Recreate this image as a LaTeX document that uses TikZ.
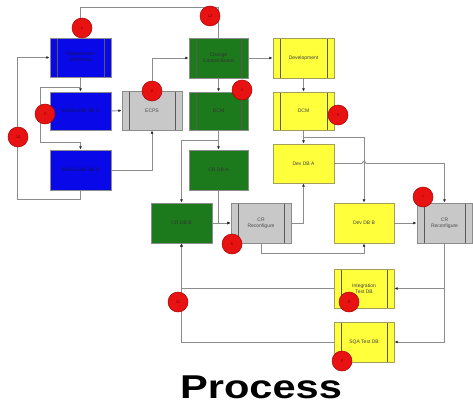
\documentclass[tikz,border=0pt]{standalone}
\usepackage{fontspec}
\setmainfont{Liberation Sans}
\usetikzlibrary{arrows.meta}

\definecolor{bluebox}{RGB}{8,8,232}
\definecolor{greenbox}{RGB}{28,122,28}
\definecolor{yellowbox}{RGB}{255,255,60}
\definecolor{greybox}{RGB}{200,200,200}
\definecolor{badgered}{RGB}{232,18,18}
\definecolor{linegrey}{RGB}{140,140,140}

\tikzset{
  box/.style={draw=linegrey, line width=0.8pt, minimum width=60pt, minimum height=39pt,
    inner sep=1pt, align=center, text=black!75, font=\fontsize{5}{6}\selectfont},
  bars/.style={path picture={
    \draw[line width=0.8pt, black!65]
      ([xshift=7pt]path picture bounding box.north west) -- ([xshift=7pt]path picture bounding box.south west)
      ([xshift=-7pt]path picture bounding box.north east) -- ([xshift=-7pt]path picture bounding box.south east);}},
  bluenode/.style={box, fill=bluebox, text={rgb,255:red,20;green,20;blue,90}},
  greennode/.style={box, fill=greenbox, text=black!80},
  yellownode/.style={box, fill=yellowbox, draw={rgb,255:red,160;green,160;blue,90}},
  greynode/.style={box, fill=greybox, text=black!70},
  flow/.style={draw=linegrey, line width=0.9pt, -{Latex[length=3.2pt, width=2.8pt, color=black!85]}},
  badge/.style={circle, fill=badgered, draw={rgb,255:red,170;green,0;blue,0}, line width=0.5pt,
    minimum size=20pt, inner sep=0pt, text={rgb,255:red,120;green,0;blue,0}, font=\fontsize{4}{4}\selectfont},
}

\begin{document}
\begin{tikzpicture}[x=1pt,y=-1pt]
\fill[white] (0,0) rectangle (473,409);
\useasboundingbox (0,0) rectangle (473,409);

% Requirement side
\node[bluenode, bars, minimum width=61pt] (req) at (80.5,57.5) {Requirement\\Workshop};
\node[bluenode, minimum width=61pt, minimum height=38pt] (blA) at (80.5,111) {BASELINE DB A};
\node[bluenode, minimum width=61pt, minimum height=40pt] (blB) at (80.5,170) {BASELINE DB B};
\node[greynode, bars] (ecps) at (152,110.5) {ECPS};

% Change control
\node[greennode, bars, minimum width=59pt, minimum height=40pt] (ccb) at (218.5,58) {Change\\Control Board};
\node[greennode, bars, minimum width=59pt, minimum height=38pt] (gdcm) at (218.5,111) {DCM};
\node[greennode, minimum width=59pt, minimum height=40pt] (crdba) at (218.5,170) {CR DB A};
\node[greennode, minimum width=61pt, minimum height=40pt] (crdbb) at (181.5,223) {CR DB B};
\node[greynode, bars, minimum height=40pt] (crr1) at (261,223) {CR\\Reconfigure};

% Development
\node[yellownode, bars, minimum width=61pt, minimum height=40pt] (dev) at (303.5,58) {Development};
\node[yellownode, bars, minimum width=61pt, minimum height=38pt] (ydcm) at (303.5,111) {DCM};
\node[yellownode, minimum width=61pt] (devdba) at (303.5,163.5) {Dev DB A};
\node[yellownode, minimum height=40pt] (devdbb) at (364,223) {Dev DB B};
\node[greynode, bars, minimum width=55pt, minimum height=40pt] (crr2) at (444.5,223) {CR\\Reconfigure};
\node[yellownode, bars] (integ) at (364,288.5) {Integration\\Test DB};
\node[yellownode, bars, minimum height=40pt] (sqa) at (364,342) {SQA Test DB};

% Connectors
\draw[flow] (ccb.north) -- ++(0,-30) -| (req.north);
\draw[flow] (blB.south) -- ++(0,9) -| ([xshift=-32pt]req.west) -- (req.west);
\draw[flow] (req.south) -- (blA.north);
\draw[flow] ([yshift=4pt]blA.north) -- ++(-40.5,0) |- ([yshift=7pt]blB.north) -- (blB.north);
\draw[flow] (blA.east) -- (ecps.west);
\draw[flow] (blB.east) -| (ecps.south);
\draw[flow] (ecps.north) |- (ccb.west);
\draw[flow] (ccb.south) -- (gdcm.north);
\draw[flow] (ccb.east) -- (dev.west);
\draw[flow] (dev.south) -- (ydcm.north);
\draw[flow] (gdcm.south) -- (crdba.north);
\draw[flow] ([yshift=-10pt]gdcm.south) -| (crdbb.north);
\draw[flow] (crdba.south) |- (crr1.west);
\draw[flow] (crdbb.east) -- (crr1.west);
\draw[flow] (crr1.east) -| (devdba.south);
\draw[flow] (crr1.south) -- ++(0,10) -| (devdbb.south);
\draw[flow] (ydcm.south) -- (devdba.north);
\draw[flow] ([yshift=-7pt]ydcm.south) -| (devdbb.north);
\draw[flow] (devdba.east) -- ([xshift=-2pt]devdbb.north |- devdba.east)
  arc[start angle=180, end angle=0, radius=2pt] -| (crr2.north);
\draw[flow] (devdbb.east) -- (crr2.west);
\draw[flow] (crr2.south) |- (sqa.east);
\draw[flow] (crr2.south |- integ.east) -- (integ.east);
\draw[flow] (integ.west) -| (crdbb.south);
\draw[flow] (sqa.west) -| (crdbb.south);

% Step numbers
\node[badge] (n1) at (82,28) {1};
\node[badge] (n2) at (152,91) {2};
\node[badge] (n3) at (45,114) {3};
\node[badge] (n4) at (242,90) {4};
\node[badge] (n5) at (338,115) {5};
\node[badge] (n6) at (232,244) {6};
\node[badge] (n7) at (423,197) {7};
\node[badge] (n8) at (349,302) {8};
\node[badge] (n9) at (342,361) {9};
\node[badge] (n10) at (18,137) {10};
\node[badge] (n11) at (178,302) {11};
\node[badge] (n12) at (210,16) {12};

% Title
\node[anchor=base, xscale=1.26, inner sep=0pt, font=\fontsize{33}{33}\selectfont\bfseries] (title) at (261,398) {Process};
\end{tikzpicture}
\end{document}
